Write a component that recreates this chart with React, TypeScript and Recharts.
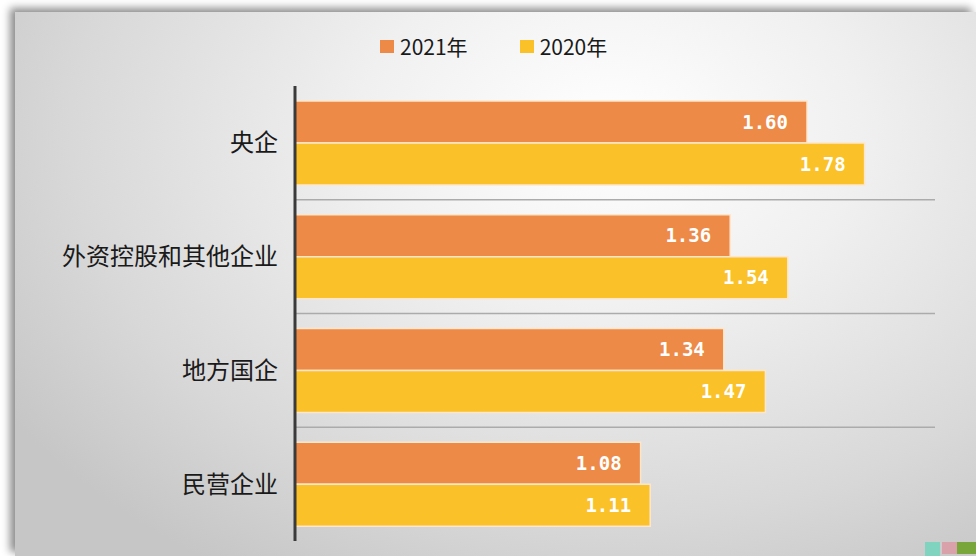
import React from 'react';
import { BarChart, Bar, XAxis, YAxis, Legend, LabelList, CartesianGrid } from 'recharts';

const categories = ['央企', '外资控股和其他企业', '地方国企', '民营企业'];
const values2021 = [1.6, 1.36, 1.34, 1.08];
const values2020 = [1.78, 1.54, 1.47, 1.11];
const seriesNames = ['2021年', '2020年'];
const seriesColors = ['#ED8A47', '#FBC128'];
const xDomain = [0, 2];
const gridPositions = [1, 2, 3];

const data = categories.map((name, i) => ({
  name,
  y2021: values2021[i],
  y2020: values2020[i],
}));

const fmt = (v: any) => Number(v).toFixed(2);

const LegendContent = () => (
  <div style={{ display: 'flex', alignItems: 'center', fontFamily: '"Noto Sans CJK SC", sans-serif', fontSize: 21, color: '#1a1a1a' }}>
    {seriesNames.map((n, i) => (
      <div key={n} style={{ display: 'flex', alignItems: 'center', marginRight: i === 0 ? 52 : 0 }}>
        <div style={{ width: 14, height: 13, background: seriesColors[i], marginRight: 6 }} />
        <span style={{ lineHeight: '24px' }}>{n}</span>
      </div>
    ))}
  </div>
);

const gridGen = (props: any) => {
  const off = props.offset;
  return gridPositions.map((g) => off.top + (off.height * g) / categories.length);
};

export default function App() {
  return (
    <div style={{ position: 'absolute', left: 0, top: 0, width: 976, height: 556, background: '#ffffff', overflow: 'hidden' }}>
      <div
        style={{
          position: 'absolute',
          left: 15,
          top: 12,
          width: 961,
          height: 544,
          background: 'radial-gradient(ellipse 75% 95% at 62% 22%, #ffffff 0%, #f0f0f0 35%, #d8d8d8 75%, #c6c6c6 100%)',
          boxShadow: '-5px -4px 8px rgba(0,0,0,0.45)',
        }}
      />
      <div style={{ position: 'absolute', left: 925, top: 542, width: 15, height: 14, background: '#7fd3bf' }} />
      <div style={{ position: 'absolute', left: 942, top: 542, width: 15, height: 12, background: '#d9a2aa' }} />
      <div style={{ position: 'absolute', left: 957, top: 542, width: 19, height: 12, background: '#78a63a' }} />
      <div style={{ position: 'absolute', left: 0, top: 0 }}>
        <BarChart
          width={976}
          height={556}
          data={data}
          layout="vertical"
          margin={{ top: 86, right: 41, bottom: 15, left: 15 }}
          barCategoryGap={15}
          barGap={0}
        >
          <CartesianGrid
            vertical={false}
            horizontal
            horizontalCoordinatesGenerator={gridGen}
            stroke="#ababab"
            strokeWidth={1.5}
          />
          <XAxis
            type="number"
            domain={xDomain}
            allowDataOverflow
            tick={false}
            tickLine={false}
            height={0}
            axisLine={{ stroke: '#8c8c8c', strokeWidth: 2 }}
          />
          <YAxis
            type="category"
            dataKey="name"
            width={280}
            tickLine={false}
            tickSize={0}
            tickMargin={17}
            axisLine={{ stroke: '#3a3a3a', strokeWidth: 3 }}
            tick={{ fontSize: 24, fill: '#1a1a1a', fontFamily: '"Noto Sans CJK SC", sans-serif' }}
          />
          <Legend
            layout="horizontal"
            verticalAlign="middle"
            align="center"
            content={<LegendContent />}
            wrapperStyle={{ position: 'absolute', top: 34, left: 380, width: 300, height: 26 }}
          />
          <Bar dataKey="y2021" name={seriesNames[0]} fill={seriesColors[0]} stroke="#fde6cc" strokeWidth={1.5} isAnimationActive={false}>
            <LabelList
              dataKey="y2021"
              position="insideRight"
              offset={19}
              formatter={fmt}
              style={{ fill: '#ffffff', fontFamily: '"DejaVu Sans Mono", monospace', fontWeight: 'bold', fontSize: 19 }}
            />
          </Bar>
          <Bar dataKey="y2020" name={seriesNames[1]} fill={seriesColors[1]} stroke="#fde6cc" strokeWidth={1.5} isAnimationActive={false}>
            <LabelList
              dataKey="y2020"
              position="insideRight"
              offset={19}
              formatter={fmt}
              style={{ fill: '#ffffff', fontFamily: '"DejaVu Sans Mono", monospace', fontWeight: 'bold', fontSize: 19 }}
            />
          </Bar>
        </BarChart>
      </div>
    </div>
  );
}
